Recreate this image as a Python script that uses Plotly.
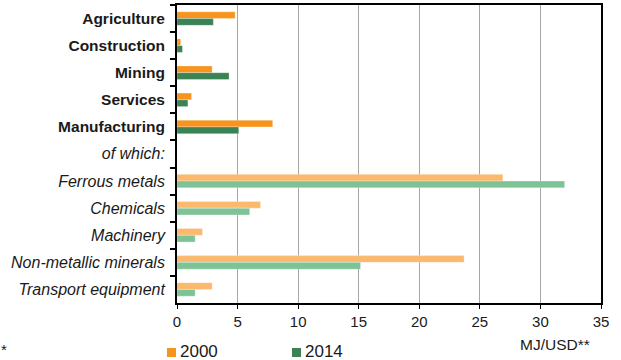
import plotly.graph_objects as go

categories = ["Agriculture", "Construction", "Mining", "Services", "Manufacturing",
              "of which:", "Ferrous metals", "Chemicals", "Machinery",
              "Non-metallic minerals", "Transport equipment"]
is_main = [True, True, True, True, True, False, False, False, False, False, False]
values_2000 = [4.8, 0.3, 2.9, 1.2, 7.9, None, 26.9, 6.9, 2.1, 23.7, 2.9]
values_2014 = [3.0, 0.45, 4.3, 0.9, 5.1, None, 32.0, 6.0, 1.5, 15.15, 1.5]
x_ticks = [0, 5, 10, 15, 20, 25, 30, 35]
series_names = ["2000", "2014"]

dark_2000, light_2000 = "#F7941D", "#FBB96E"
dark_2014, light_2014 = "#3B8255", "#7DC396"

W, H = 621, 360
L, R, T, B = 177, 20, 5, 57
PW, PH = W - L - R, H - T - B

def px(x):
    return (x - L) / PW

def py(y):
    return (H - B - y) / PH

labels = [f"<b>{c}</b>" if m else f"<i><span style='font-size:16px'>{c}</span></i>"
          for c, m in zip(categories, is_main)]
col_2000 = [dark_2000 if m else light_2000 for m in is_main]
col_2014 = [dark_2014 if m else light_2014 for m in is_main]

fig = go.Figure()
fig.add_trace(go.Bar(y=labels, x=values_2000, orientation="h", name=series_names[0],
                     marker=dict(color=col_2000, line=dict(color="rgba(255,255,255,0.6)", width=0.5))))
fig.add_trace(go.Bar(y=labels, x=values_2014, orientation="h", name=series_names[1],
                     marker=dict(color=col_2014, line=dict(color="rgba(255,255,255,0.6)", width=0.5))))

fig.update_layout(
    width=W, height=H,
    margin=dict(l=L, r=R, t=T, b=B, autoexpand=False),
    barmode="group", bargap=0.5, bargroupgap=0,
    plot_bgcolor="white", paper_bgcolor="white",
    font=dict(family="Liberation Sans", size=15, color="#1a1a1a"),
    showlegend=False,
)
fig.update_xaxes(range=[0, 35], tickvals=x_ticks, showgrid=True, gridcolor="#A6A6A6",
                 gridwidth=1, showline=True, linecolor="black", linewidth=2, mirror=True,
                 ticks="outside", ticklen=4, tickcolor="black", zeroline=False,
                 automargin=False, fixedrange=True)
fig.update_yaxes(autorange="reversed", type="category", tickson="boundaries", ticks="outside",
                 ticklen=5, tickcolor="black", tickwidth=2, showline=True, linecolor="black",
                 linewidth=2, mirror=True, showgrid=False, automargin=False, fixedrange=True,
                 tickfont=dict(size=15.5), ticklabelstandoff=7)

# legend (manual, matching reference layout)
legend_items = [(series_names[0], dark_2000, 167), (series_names[1], dark_2014, 292)]
for name, col, x0 in legend_items:
    fig.add_shape(type="rect", xref="paper", yref="paper",
                  x0=px(x0), x1=px(x0 + 9), y0=py(357), y1=py(348),
                  fillcolor=col, line=dict(width=0))
    fig.add_annotation(text=name, xref="paper", yref="paper", x=px(x0 + 12), y=py(351),
                       xanchor="left", yanchor="middle", showarrow=False,
                       font=dict(size=17), borderpad=0)

fig.add_annotation(text="*", xref="paper", yref="paper", x=px(0), y=py(349),
                   xanchor="left", yanchor="middle", showarrow=False, font=dict(size=15), borderpad=0)
fig.add_annotation(text="MJ/USD**", xref="paper", yref="paper", x=px(591), y=py(344),
                   xanchor="right", yanchor="middle", showarrow=False, font=dict(size=15.5), borderpad=0)

fig.write_html("out.html", config={"displayModeBar": False},
               post_script="document.body.style.margin='0';")
